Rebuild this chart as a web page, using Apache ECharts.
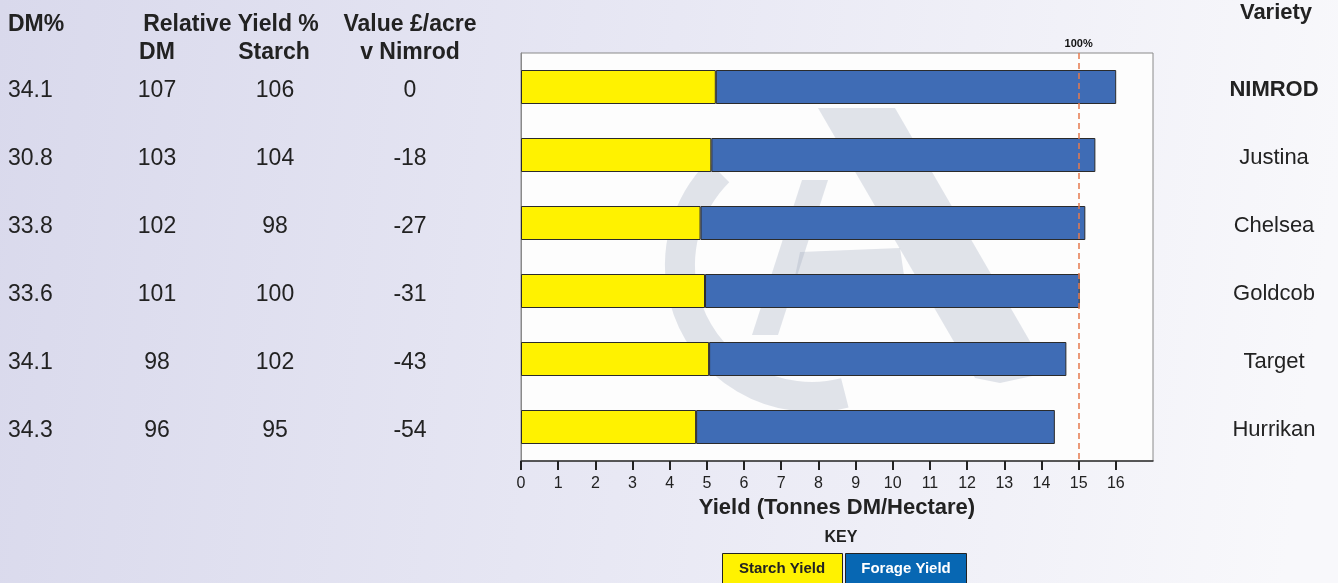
<!DOCTYPE html>
<html>
<head>
<meta charset="utf-8">
<script src="https://cdn.jsdelivr.net/npm/echarts@6/dist/echarts.min.js"></script>
<style>
html,body{margin:0;padding:0;}
#c{width:1338px;height:583px;}
</style>
</head>
<body>
<div id="c"></div>
<script>
// ---- data ----
const varieties = ['NIMROD', 'Justina', 'Chelsea', 'Goldcob', 'Target', 'Hurrikan'];
const starchYield = [5.24, 5.12, 4.83, 4.95, 5.06, 4.71];
const forageYield = [10.77, 10.33, 10.35, 10.08, 9.61, 9.65];
const dmPercent = ['34.1', '30.8', '33.8', '33.6', '34.1', '34.3'];
const relYieldDM = ['107', '103', '102', '101', '98', '96'];
const relYieldStarch = ['106', '104', '98', '100', '102', '95'];
const valueVsNimrod = ['0', '-18', '-27', '-31', '-43', '-54'];
const xTicks = [0, 1, 2, 3, 4, 5, 6, 7, 8, 9, 10, 11, 12, 13, 14, 15, 16];
const referenceYield = 15;

const FONT = '"Liberation Sans", Arial, Helvetica, sans-serif';
const TXT = '#222222';

const chart = echarts.init(document.getElementById('c'), null, {renderer: 'canvas'});

const GRID_LEFT = 521;

function colAxis(values, margin, align) {
  return {
    type: 'category', data: varieties, inverse: true, gridIndex: 0, position: 'left',
    axisLine: {show: false}, axisTick: {show: false}, splitLine: {show: false},
    axisLabel: {
      margin: margin, align: align, verticalAlign: 'top', lineHeight: 7,
      fontFamily: FONT, fontSize: 23, color: TXT,
      formatter: (v, i) => values[i]
    }
  };
}

const option = {
  backgroundColor: new echarts.graphic.LinearGradient(0, 0, 1, 0.3, [
    {offset: 0, color: '#d9d9ec'},
    {offset: 0.5, color: '#e8e8f4'},
    {offset: 1, color: '#f8f8fb'}
  ]),
  animation: false,
  grid: {
    left: GRID_LEFT, right: 185, top: 53, bottom: 122,
    show: true, backgroundColor: '#fdfdfd', borderColor: '#8a8a8a', borderWidth: 1
  },
  xAxis: {
    type: 'value', min: 0, max: 17, interval: 1,
    axisLine: {show: true, lineStyle: {color: '#333', width: 1.5}},
    axisTick: {show: true, length: 9, customValues: xTicks, lineStyle: {color: '#222', width: 2}},
    axisLabel: {customValues: xTicks, fontFamily: FONT, fontSize: 16, color: TXT, margin: 15},
    splitLine: {show: false},
    name: 'Yield (Tonnes DM/Hectare)', nameLocation: 'middle', nameGap: 36,
    nameTextStyle: {fontFamily: FONT, fontSize: 22, fontWeight: 'bold', color: TXT}
  },
  yAxis: [
    {
      type: 'category', data: varieties, inverse: true, position: 'left',
      axisLine: {show: true, lineStyle: {color: '#8a8a8a', width: 1}},
      axisTick: {show: false}, axisLabel: {show: false}, splitLine: {show: false}
    },
    {
      type: 'category', data: varieties, inverse: true, position: 'right', gridIndex: 0,
      axisLine: {show: false}, axisTick: {show: false}, splitLine: {show: false},
      axisLabel: {
        margin: 121, align: 'center', fontFamily: FONT, fontSize: 22, color: TXT,
        padding: [5, 0, 0, 0],
        formatter: (v) => v === 'NIMROD' ? '{b|' + v + '}' : v,
        rich: {b: {fontFamily: FONT, fontSize: 22, fontWeight: 'bold', color: TXT}}
      }
    },
    colAxis(dmPercent, GRID_LEFT - 8, 'left'),
    colAxis(relYieldDM, GRID_LEFT - 157, 'center'),
    colAxis(relYieldStarch, GRID_LEFT - 275, 'center'),
    colAxis(valueVsNimrod, GRID_LEFT - 410, 'center')
  ],
  series: [
    {
      name: 'Starch Yield', type: 'bar', stack: 'y', yAxisIndex: 0, barWidth: '50%',
      data: starchYield,
      itemStyle: {color: '#fff200', borderColor: '#2b2b2b', borderWidth: 1},
      markLine: {
        silent: true, symbol: 'none',
        lineStyle: {color: '#e57a4e', type: [6, 4], width: 1.5},
        label: {show: true, position: 'start', formatter: '100%', fontFamily: FONT,
                fontSize: 11, fontWeight: 'bold', color: '#111', distance: 4},
        data: [{xAxis: referenceYield}]
      },
      z: 3
    },
    {
      name: 'Forage Yield', type: 'bar', stack: 'y', yAxisIndex: 0, barWidth: '50%',
      data: forageYield,
      itemStyle: {color: '#3f6cb5', borderColor: '#2b2b2b', borderWidth: 1},
      z: 3
    }
  ],
  graphic: [
    // watermark (decorative logo)
    {type: 'polygon', z: 1, silent: true,
     shape: {points: [[818,108],[895,108],[1035,350],[1037,375],[1000,383],[975,378]]},
     style: {fill: 'rgba(160,170,188,0.3)'}},
    {type: 'arc', z: 1, silent: true,
     shape: {cx: 812, cy: 265, r: 132, startAngle: Math.PI * 0.42, endAngle: Math.PI * 1.25, clockwise: true},
     style: {stroke: 'rgba(160,170,188,0.3)', lineWidth: 30, fill: null}},
    {type: 'polygon', z: 1, silent: true,
     shape: {points: [[800,252],[900,248],[905,282],[790,300]]},
     style: {fill: 'rgba(160,170,188,0.3)'}},
    {type: 'polygon', z: 1, silent: true,
     shape: {points: [[752,335],[778,335],[828,180],[802,180]]},
     style: {fill: 'rgba(160,170,188,0.3)'}},
    // table headers
    {type: 'text', x: 8, y: 25, style: {text: 'DM%', font: 'bold 23px ' + FONT, fill: TXT, align: 'left', verticalAlign: 'middle'}},
    {type: 'text', x: 231, y: 25, style: {text: 'Relative Yield %', font: 'bold 23px ' + FONT, fill: TXT, align: 'center', verticalAlign: 'middle'}},
    {type: 'text', x: 410, y: 25, style: {text: 'Value £/acre', font: 'bold 23px ' + FONT, fill: TXT, align: 'center', verticalAlign: 'middle'}},
    {type: 'text', x: 157, y: 53, style: {text: 'DM', font: 'bold 23px ' + FONT, fill: TXT, align: 'center', verticalAlign: 'middle'}},
    {type: 'text', x: 274, y: 53, style: {text: 'Starch', font: 'bold 23px ' + FONT, fill: TXT, align: 'center', verticalAlign: 'middle'}},
    {type: 'text', x: 410, y: 53, style: {text: 'v Nimrod', font: 'bold 23px ' + FONT, fill: TXT, align: 'center', verticalAlign: 'middle'}},
    {type: 'text', x: 1276, y: 13, style: {text: 'Variety', font: 'bold 22px ' + FONT, fill: TXT, align: 'center', verticalAlign: 'middle'}},
    // key
    {type: 'text', x: 841, y: 538, style: {text: 'KEY', font: 'bold 16px ' + FONT, fill: TXT, align: 'center', verticalAlign: 'middle'}},
    {type: 'rect', shape: {x: 722.5, y: 553.5, width: 120, height: 32}, style: {fill: '#fff200', stroke: '#222', lineWidth: 1}},
    {type: 'text', x: 782, y: 569, style: {text: 'Starch Yield', font: 'bold 15px ' + FONT, fill: TXT, align: 'center', verticalAlign: 'middle'}},
    {type: 'rect', shape: {x: 845.5, y: 553.5, width: 121, height: 32}, style: {fill: '#0767b3', stroke: '#222', lineWidth: 1}},
    {type: 'text', x: 906, y: 569, style: {text: 'Forage Yield', font: 'bold 15px ' + FONT, fill: '#ffffff', align: 'center', verticalAlign: 'middle'}}
  ]
};

chart.setOption(option);
</script>
</body>
</html>
